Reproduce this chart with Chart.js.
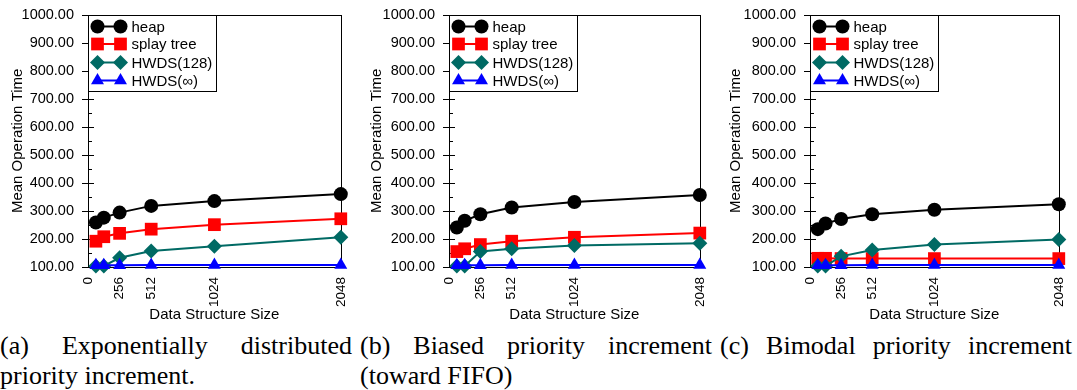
<!DOCTYPE html>
<html>
<head>
<meta charset="utf-8">
<script src="https://cdn.jsdelivr.net/npm/chart.js@4/dist/chart.umd.min.js"></script>
<style>
    body { margin: 0; background: #fff; width: 1077px; height: 390px; overflow: hidden; position: relative; }
    canvas { position: absolute; top: 0; }
    .cap { position: absolute; top: 331px; width: 352px; font: 26px "Liberation Serif", serif; line-height: 30px; color: #000; }
    .cap .l1 { text-align: justify; text-align-last: justify; white-space: nowrap; }
</style>
</head>
<body>
<canvas id="chartA" width="359" height="330" style="left:0"></canvas>
<canvas id="chartB" width="359" height="330" style="left:359px"></canvas>
<canvas id="chartC" width="359" height="330" style="left:718px"></canvas>

<div class="cap" style="left:0"><div class="l1">(a) Exponentially distributed</div><div>priority increment.</div></div>
<div class="cap" style="left:360px"><div class="l1">(b) Biased priority increment</div><div>(toward FIFO)</div></div>
<div class="cap" style="left:720px"><div class="l1">(c) Bimodal priority increment</div></div>

<script>
const sizes = [64, 128, 256, 512, 1024, 2048];
const xTicks = [0, 256, 512, 1024, 2048];
const seriesNames = ['heap', 'splay tree', 'HWDS(128)', 'HWDS(\u221e)'];

// (a) exponentially distributed
const heapA   = [259, 276, 294, 318, 335, 360];
const splayA  = [192, 208, 220, 235, 251, 272];
const hw128A  = [104, 104, 133, 157, 174, 206];
const hwInfA  = [106, 106, 106, 107, 107, 107];

// (b) biased toward FIFO
const heapB   = [241, 265, 288, 312, 332, 357];
const splayB  = [155, 165, 180, 192, 206, 221];
const hw128B  = [104, 104, 155, 165, 177, 185];
const hwInfB  = [106, 106, 106, 107, 107, 107];

// (c) bimodal
const heapC   = [235, 255, 271, 288, 304, 324];
const splayC  = [131, 131, 130, 130, 130, 130];
const hw128C  = [104, 104, 138, 161, 180, 198];
const hwInfC  = [106, 106, 106, 107, 107, 107];

const styles = [
    { color: '#000000', shape: 'circle',   r: 7 },
    { color: '#ff0000', shape: 'rect',     r: 9 },
    { color: '#006a64', shape: 'rectRot',  r: 7.5 },
    { color: '#0000ff', shape: 'triangle', r: 7.5 }
];

const FONT = '"Liberation Sans", Arial, sans-serif';

function drawMarker(ctx, shape, x, y, r, color) {
    ctx.save();
    ctx.fillStyle = color;
    ctx.beginPath();
    if (shape === 'circle') {
        ctx.arc(x, y, r, 0, Math.PI * 2);
    } else if (shape === 'rect') {
        const s = r * Math.SQRT1_2;
        ctx.rect(x - s, y - s, 2 * s, 2 * s);
    } else if (shape === 'rectRot') {
        ctx.moveTo(x, y - r); ctx.lineTo(x + r, y); ctx.lineTo(x, y + r); ctx.lineTo(x - r, y);
        ctx.closePath();
    } else {
        for (let i = 0; i < 3; i++) {
            const a = i * 2 * Math.PI / 3;
            const px = x + Math.sin(a) * r, py = y - Math.cos(a) * r;
            if (i === 0) ctx.moveTo(px, py); else ctx.lineTo(px, py);
        }
        ctx.closePath();
    }
    ctx.fill();
    ctx.restore();
}

// frame, ticks and in-plot legend
const framePlugin = {
    id: 'frame',
    beforeDatasetsDraw(chart) {
        const { ctx, chartArea: a, scales: { y } } = chart;
        ctx.save();
        ctx.strokeStyle = '#000';
        ctx.lineWidth = 1;
        ctx.strokeRect(Math.round(a.left) + 0.5, Math.round(a.top) + 0.5, Math.round(a.right - a.left), Math.round(a.bottom - a.top));
        ctx.beginPath();
        for (let v = 100; v <= 1000; v += 100) {
            const py = Math.round(y.getPixelForValue(v)) + 0.5;
            ctx.moveTo(a.left - 6, py); ctx.lineTo(a.left + 6, py);
        }
        for (let v = 150; v < 1000; v += 100) {
            const py = Math.round(y.getPixelForValue(v)) + 0.5;
            ctx.moveTo(a.left, py); ctx.lineTo(a.left + 4, py);
        }
        ctx.stroke();
        ctx.restore();
    },
    afterDatasetsDraw(chart) {
        const { ctx, chartArea: a } = chart;
        const left = Math.round(a.left) + 0.5, top = Math.round(a.top) + 0.5;
        ctx.save();
        ctx.fillStyle = '#fff';
        ctx.fillRect(left, top, 128, 76);
        ctx.strokeStyle = '#000';
        ctx.lineWidth = 1;
        ctx.strokeRect(left, top, 128, 76);
        const rows = [11, 28.5, 47, 65];
        ctx.font = '15px ' + FONT;
        ctx.textBaseline = 'middle';
        seriesNames.forEach((name, i) => {
            const st = styles[i];
            const cy = top + rows[i];
            ctx.strokeStyle = st.color;
            ctx.lineWidth = 2;
            ctx.beginPath();
            ctx.moveTo(left + 9, cy); ctx.lineTo(left + 32, cy);
            ctx.stroke();
            drawMarker(ctx, st.shape, left + 9, cy, st.r, st.color);
            drawMarker(ctx, st.shape, left + 32, cy, st.r, st.color);
            ctx.fillStyle = '#000';
            ctx.fillText(name, left + 43, cy + 1);
        });
        ctx.restore();
    }
};

function makeChart(id, series, plotLeft, plotRight) {
    const datasets = series.map((vals, i) => ({
        label: seriesNames[i],
        data: sizes.map((s, k) => ({ x: s, y: vals[k] })),
        borderColor: styles[i].color,
        backgroundColor: styles[i].color,
        borderWidth: 2,
        pointStyle: styles[i].shape,
        pointRadius: styles[i].r,
        pointBorderWidth: 0,
        tension: 0,
        clip: false,
        order: 3 - i
    }));

    return new Chart(document.getElementById(id), {
        type: 'line',
        data: { datasets },
        options: {
            responsive: false,
            animation: false,
            layout: { padding: { top: 12, right: 359 - plotRight, bottom: 0, left: 0 } },
            plugins: { legend: { display: false }, tooltip: { enabled: false } },
            scales: {
                x: {
                    type: 'linear',
                    min: 0,
                    max: 2048,
                    grid: { display: false },
                    border: { display: false },
                    afterBuildTicks: (scale) => { scale.ticks = xTicks.map(v => ({ value: v })); },
                    afterFit: (scale) => { scale.height = 63; },
                    ticks: {
                        autoSkip: false,
                        minRotation: 90,
                        maxRotation: 90,
                        padding: 2,
                        color: '#000',
                        font: { family: FONT, size: 13.5 },
                        callback: (v) => String(v)
                    },
                    title: {
                        display: true,
                        text: 'Data Structure Size',
                        color: '#000',
                        font: { family: FONT, size: 15 },
                        padding: { top: 0, bottom: 6 }
                    }
                },
                y: {
                    min: 100,
                    max: 1000,
                    grid: { display: false },
                    border: { display: false },
                    afterFit: (scale) => { scale.width = plotLeft; },
                    ticks: {
                        stepSize: 100,
                        padding: 6,
                        color: '#000',
                        font: { family: FONT, size: 14.5 },
                        callback: (v) => v.toFixed(2)
                    },
                    title: {
                        display: true,
                        text: 'Mean Operation Time',
                        color: '#000',
                        font: { family: FONT, size: 15 },
                        padding: { top: 9, bottom: 0 }
                    }
                }
            }
        },
        plugins: [framePlugin]
    });
}

makeChart('chartA', [heapA, splayA, hw128A, hwInfA], 88, 343);
makeChart('chartB', [heapB, splayB, hw128B, hwInfB], 90, 346);
makeChart('chartC', [heapC, splayC, hw128C, hwInfC], 92, 349);
</script>
</body>
</html>
